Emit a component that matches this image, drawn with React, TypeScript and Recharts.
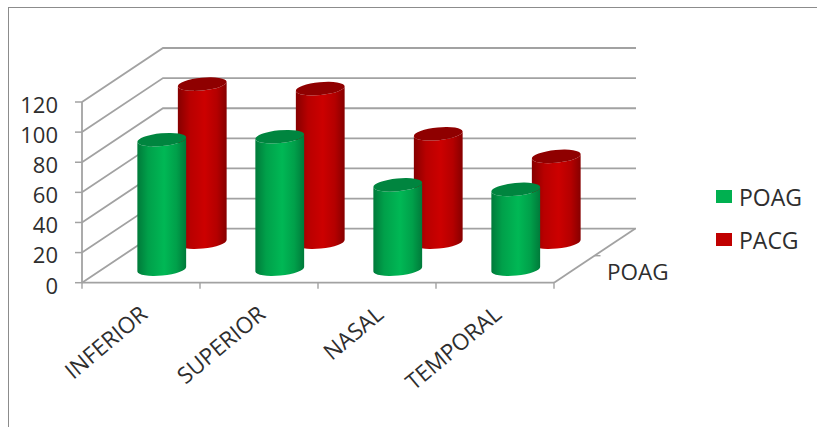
import React from "react";
import { ComposedChart, Bar, XAxis, YAxis, Legend } from "recharts";

// Retinal sectors and the values of the two glaucoma groups
const sectors = ["INFERIOR", "SUPERIOR", "NASAL", "TEMPORAL"];
const poagValues = [86, 88, 56, 53];
const pacgValues = [105, 102, 72, 57];
const yTicks = [0, 20, 40, 60, 80, 100, 120];

const rows = sectors.map((sector, i) => ({ sector, POAG: poagValues[i], PACG: pacgValues[i] }));

const WIDTH = 817;
const HEIGHT = 427;
const LEFT = 82;
const TOP = 102;
const PLOT_RIGHT = 554;
const PLOT_BOTTOM = 282.7;

// Projection of the 3D box: how far the back wall sits from the front plane
const DEPTH_X = 81;
const DEPTH_Y = -54;

const GRID = "#a2a2a2";
const FONT = "'Open Sans', sans-serif";
const TEXT = "#2e2e2e";

const TILT = 5.5;
const RX = 24.5;
const RY = 6.4;

type CylinderProps = {
  x?: number;
  y?: number;
  width?: number;
  height?: number;
  gradient: string;
  cap: string;
  depth: number;
};

// Upright cylinder with a slightly tilted elliptical cap, pushed back along the depth axis
function Cylinder({ x = 0, y = 0, width = 0, height = 0, gradient, cap, depth }: CylinderProps) {
  const cx = x + width / 2 + DEPTH_X * depth;
  const top = y + DEPTH_Y * depth;
  const bottom = y + height + DEPTH_Y * depth;
  const rad = (TILT * Math.PI) / 180;
  const ex = RX * Math.cos(rad);
  const ey = RX * Math.sin(rad);
  const body =
    `M${cx - ex},${top + ey} L${cx - ex},${bottom + ey} ` +
    `A${RX},${RY} ${-TILT} 0 0 ${cx + ex},${bottom - ey} ` +
    `L${cx + ex},${top - ey} ` +
    `A${RX},${RY} ${-TILT} 0 1 ${cx - ex},${top + ey} Z`;
  return (
    <g>
      <path d={body} fill={`url(#${gradient})`} />
      <ellipse
        cx={cx}
        cy={top}
        rx={RX}
        ry={RY}
        fill={cap}
        transform={`rotate(${-TILT} ${cx} ${top})`}
      />
    </g>
  );
}

// Value tick: label and tick mark on the front edge, then the gridline along side and back walls
function WallTick({ y = 0, payload }: any) {
  const axisX = LEFT;
  return (
    <g>
      <line x1={axisX - 7} y1={y} x2={axisX} y2={y} stroke={GRID} strokeWidth={1.5} />
      <polyline
        points={`${axisX},${y} ${axisX + DEPTH_X},${y + DEPTH_Y} ${PLOT_RIGHT + DEPTH_X + 1},${y + DEPTH_Y}`}
        fill="none"
        stroke={GRID}
        strokeWidth={1.8}
      />
      <text
        x={axisX - 24}
        y={y + 5}
        textAnchor="end"
        dominantBaseline="middle"
        fontFamily={FONT}
        fontSize={22}
        fill={TEXT}
      >
        {payload.value}
      </text>
    </g>
  );
}

function SectorTick({ x = 0, y = 0, payload }: any) {
  const ax = x + 8;
  const ay = y + 26;
  return (
    <text
      x={ax}
      y={ay}
      textAnchor="end"
      transform={`rotate(-40 ${ax} ${ay})`}
      fontFamily={FONT}
      fontSize={22.5}
      fill={TEXT}
    >
      {payload.value}
    </text>
  );
}

// Legend listed in series order, front group first
const legendOrder = ["POAG", "PACG"];
const legendColors: Record<string, string> = { POAG: "#00b050", PACG: "#c00000" };

function SeriesLegend() {
  return (
    <div style={{ fontFamily: FONT, fontSize: 23, color: TEXT }}>
      {legendOrder.map((name) => (
        <div key={name} style={{ display: "flex", alignItems: "center", height: 43 }}>
          <span
            style={{ width: 16, height: 13, marginRight: 7, background: legendColors[name], display: "inline-block" }}
          />
          <span>{name}</span>
        </div>
      ))}
    </div>
  );
}

const layerStyle: React.CSSProperties = { position: "absolute", left: 0, top: 0 };

export default function App() {
  const rightX = PLOT_RIGHT;
  const floorY = PLOT_BOTTOM;
  return (
    <div style={{ position: "absolute", left: 0, top: 0, width: WIDTH, height: HEIGHT, overflow: "hidden", background: "#fff" }}>
      <div
        style={{
          position: "absolute",
          left: 8,
          top: 7,
          right: 0,
          bottom: 0,
          borderLeft: "1px solid #8c8c8c",
          borderTop: "1px solid #8c8c8c",
        }}
      />

      {/* Box layer: axes, walls and floor, kept behind the cylinders */}
      <ComposedChart
        width={WIDTH}
        height={HEIGHT}
        data={rows}
        margin={{ top: TOP, right: WIDTH - PLOT_RIGHT, bottom: 0, left: 0 }}
        style={layerStyle}
      >
        <XAxis
          dataKey="sector"
          height={HEIGHT - PLOT_BOTTOM}
          interval={0}
          axisLine={{ stroke: GRID, strokeWidth: 1.8 }}
          tickLine={false}
          tick={<SectorTick />}
        />
        <YAxis
          width={LEFT}
          domain={[0, 120]}
          ticks={yTicks}
          axisLine={{ stroke: GRID, strokeWidth: 1.8 }}
          tickLine={false}
          tick={<WallTick />}
        />
        {/* Unpainted series: gives this layer the same category bands and value range */}
        <Bar dataKey="PACG" fill="transparent" isAnimationActive={false} legendType="none" />

        {/* Right edge of the floor, its depth tick and the series-axis label */}
        <g>
          <line x1={rightX} y1={floorY} x2={rightX + DEPTH_X} y2={floorY + DEPTH_Y} stroke={GRID} strokeWidth={1.8} />
          <line x1={rightX + DEPTH_X / 2} y1={floorY + DEPTH_Y / 2} x2={rightX + DEPTH_X / 2 + 6} y2={floorY + DEPTH_Y / 2} stroke={GRID} strokeWidth={1.4} />
          {[0, 1, 2, 3, 4].map((i) => {
            const tx = LEFT + ((PLOT_RIGHT - LEFT) * i) / sectors.length;
            return <line key={i} x1={tx} y1={floorY} x2={tx} y2={floorY + 6} stroke={GRID} strokeWidth={1.4} />;
          })}
          <text x={rightX + 53} y={floorY - 3} fontFamily={FONT} fontSize={22.5} fill={TEXT}>
            POAG
          </text>
        </g>
      </ComposedChart>

      {/* Series layer: back row first so the front row overlaps it */}
      <ComposedChart
        width={WIDTH}
        height={HEIGHT}
        data={rows}
        margin={{ top: TOP, right: WIDTH - PLOT_RIGHT, bottom: HEIGHT - PLOT_BOTTOM, left: LEFT }}
        barSize={49}
        barGap={-49}
        style={layerStyle}
      >
        <defs>
          <linearGradient id="greenSide" x1="0" y1="0" x2="1" y2="0">
            <stop offset="0" stopColor="#007a3a" />
            <stop offset="0.22" stopColor="#00a04a" />
            <stop offset="0.55" stopColor="#00b855" />
            <stop offset="0.8" stopColor="#00a04a" />
            <stop offset="1" stopColor="#007a3a" />
          </linearGradient>
          <linearGradient id="redSide" x1="0" y1="0" x2="1" y2="0">
            <stop offset="0" stopColor="#860000" />
            <stop offset="0.25" stopColor="#b80000" />
            <stop offset="0.55" stopColor="#cc0000" />
            <stop offset="0.8" stopColor="#b40000" />
            <stop offset="1" stopColor="#860000" />
          </linearGradient>
        </defs>
        <XAxis dataKey="sector" hide />
        <YAxis domain={[0, 120]} ticks={yTicks} hide />
        <Bar
          dataKey="PACG"
          fill="#c00000"
          isAnimationActive={false}
          shape={(p: any) => <Cylinder {...p} gradient="redSide" cap="#8f0000" depth={0.75} />}
        />
        <Bar
          dataKey="POAG"
          fill="#00b050"
          isAnimationActive={false}
          shape={(p: any) => <Cylinder {...p} gradient="greenSide" cap="#00853f" depth={0.25} />}
        />
        <Legend
          layout="horizontal"
          verticalAlign="middle"
          content={<SeriesLegend />}
          wrapperStyle={{ position: "absolute", left: 716, top: 175, width: 95, bottom: "auto", right: "auto" }}
        />
      </ComposedChart>
    </div>
  );
}
